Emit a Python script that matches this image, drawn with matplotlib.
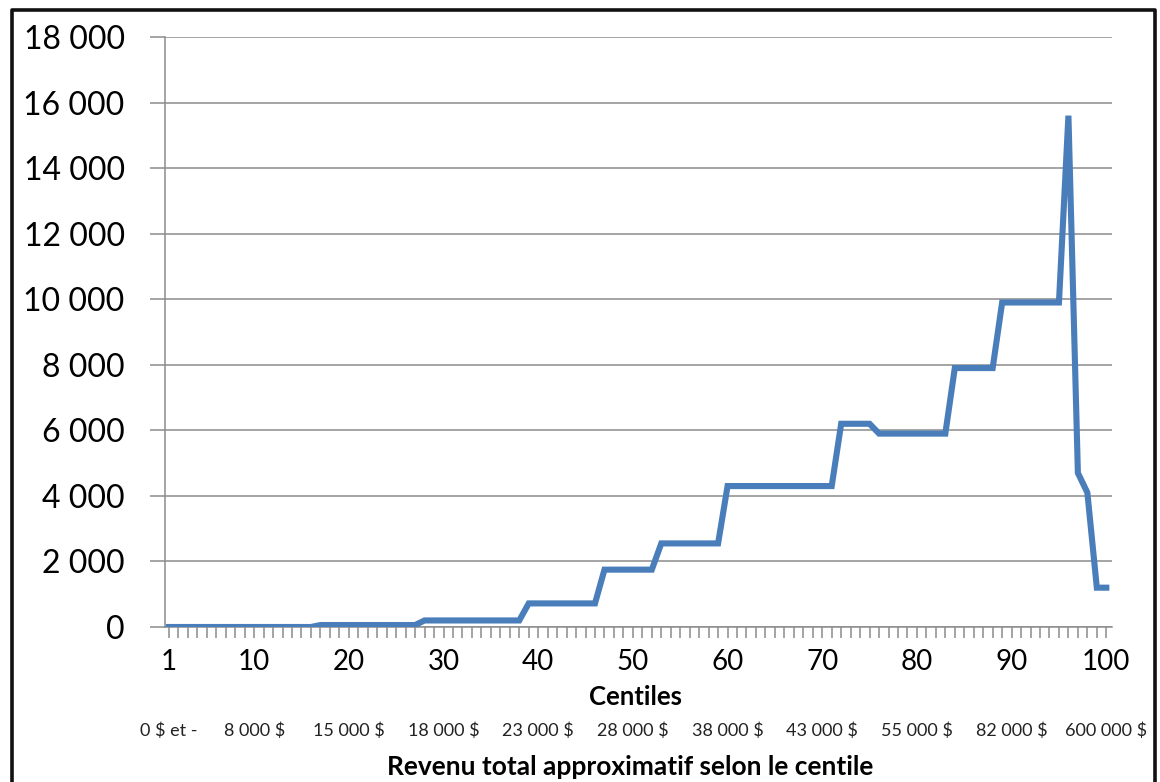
import numpy as np
import matplotlib
matplotlib.use("Agg")
import matplotlib.pyplot as plt
from matplotlib.lines import Line2D
from matplotlib.ticker import FuncFormatter, FixedLocator

plt.rcParams['font.family'] = ['Lato', 'DejaVu Sans']

# centiles 1..100 and the value for each
centiles = np.arange(1, 101)
values = ([0] * 16 + [60] * 11 + [200] * 11 + [720] * 8 + [1750] * 6 + [2550] * 7
          + [4300] * 12 + [6200] * 4 + [5900] * 8 + [7900] * 5 + [9900] * 7
          + [15600, 4700, 4100, 1200, 1200])
values = np.array(values)

xtick_labels = [1, 10, 20, 30, 40, 50, 60, 70, 80, 90, 100]
income_labels = ["0 $ et -", "8 000 $", "15 000 $", "18 000 $", "23 000 $", "28 000 $",
                 "38 000 $", "43 000 $", "55 000 $", "82 000 $", "600 000 $"]

fig = plt.figure(figsize=(11.6, 7.82), dpi=100)
ax = fig.add_axes([0.1422, 0.1982, 0.8164, 0.7545])

ax.plot(centiles, values, color='#4A7EBB', lw=4.4, solid_joinstyle='miter', zorder=3)

ax.set_xlim(0.58, 100.6)
ax.set_ylim(0, 18000)
ax.set_yticks(np.arange(0, 18001, 2000))
ax.yaxis.set_major_formatter(FuncFormatter(lambda v, p: f"{int(v):,}".replace(",", " ")))
ax.grid(axis='y', color='#8c8c8c', lw=1.1)
ax.set_axisbelow(True)

ax.xaxis.set_major_locator(FixedLocator(xtick_labels))
ax.set_xticklabels([str(v) for v in xtick_labels])
ax.xaxis.set_minor_locator(FixedLocator(centiles))
ax.tick_params(axis='x', which='both', direction='out', length=8, width=1.1,
               color='#8c8c8c', labelsize=20, pad=8)
ax.tick_params(axis='y', direction='out', length=11, width=1.1, color='#8c8c8c',
               labelsize=23, pad=18)

for s in ['top', 'right']:
    ax.spines[s].set_visible(False)
for s in ['left', 'bottom']:
    ax.spines[s].set_color('#8c8c8c')
    ax.spines[s].set_linewidth(1.1)

# second row of labels under the ticks: approximate income per centile
trans = ax.get_xaxis_transform()
for pos, lab in zip(xtick_labels, income_labels):
    ax.text(pos, -(731 - 627) / 590, lab, transform=trans, ha='center', va='center',
            fontsize=13, color='#222222')

fig.text(635 / 1160, 1 - 697 / 782, "Centiles", ha='center', va='center',
         fontsize=18.5, fontweight='bold')
fig.text(630 / 1160, 1 - 767 / 782, "Revenu total approximatif selon le centile",
         ha='center', va='center', fontsize=19, fontweight='bold')

# black frame around the picture (no bottom edge visible)
xl, xr, yt = 12 / 1160, 1155 / 1160, 1 - 10 / 782
fig.add_artist(Line2D([xl, xl, xr, xr], [0, yt, yt, 0], color='#111111', lw=2.6))

fig.savefig("out.png", dpi=100)
